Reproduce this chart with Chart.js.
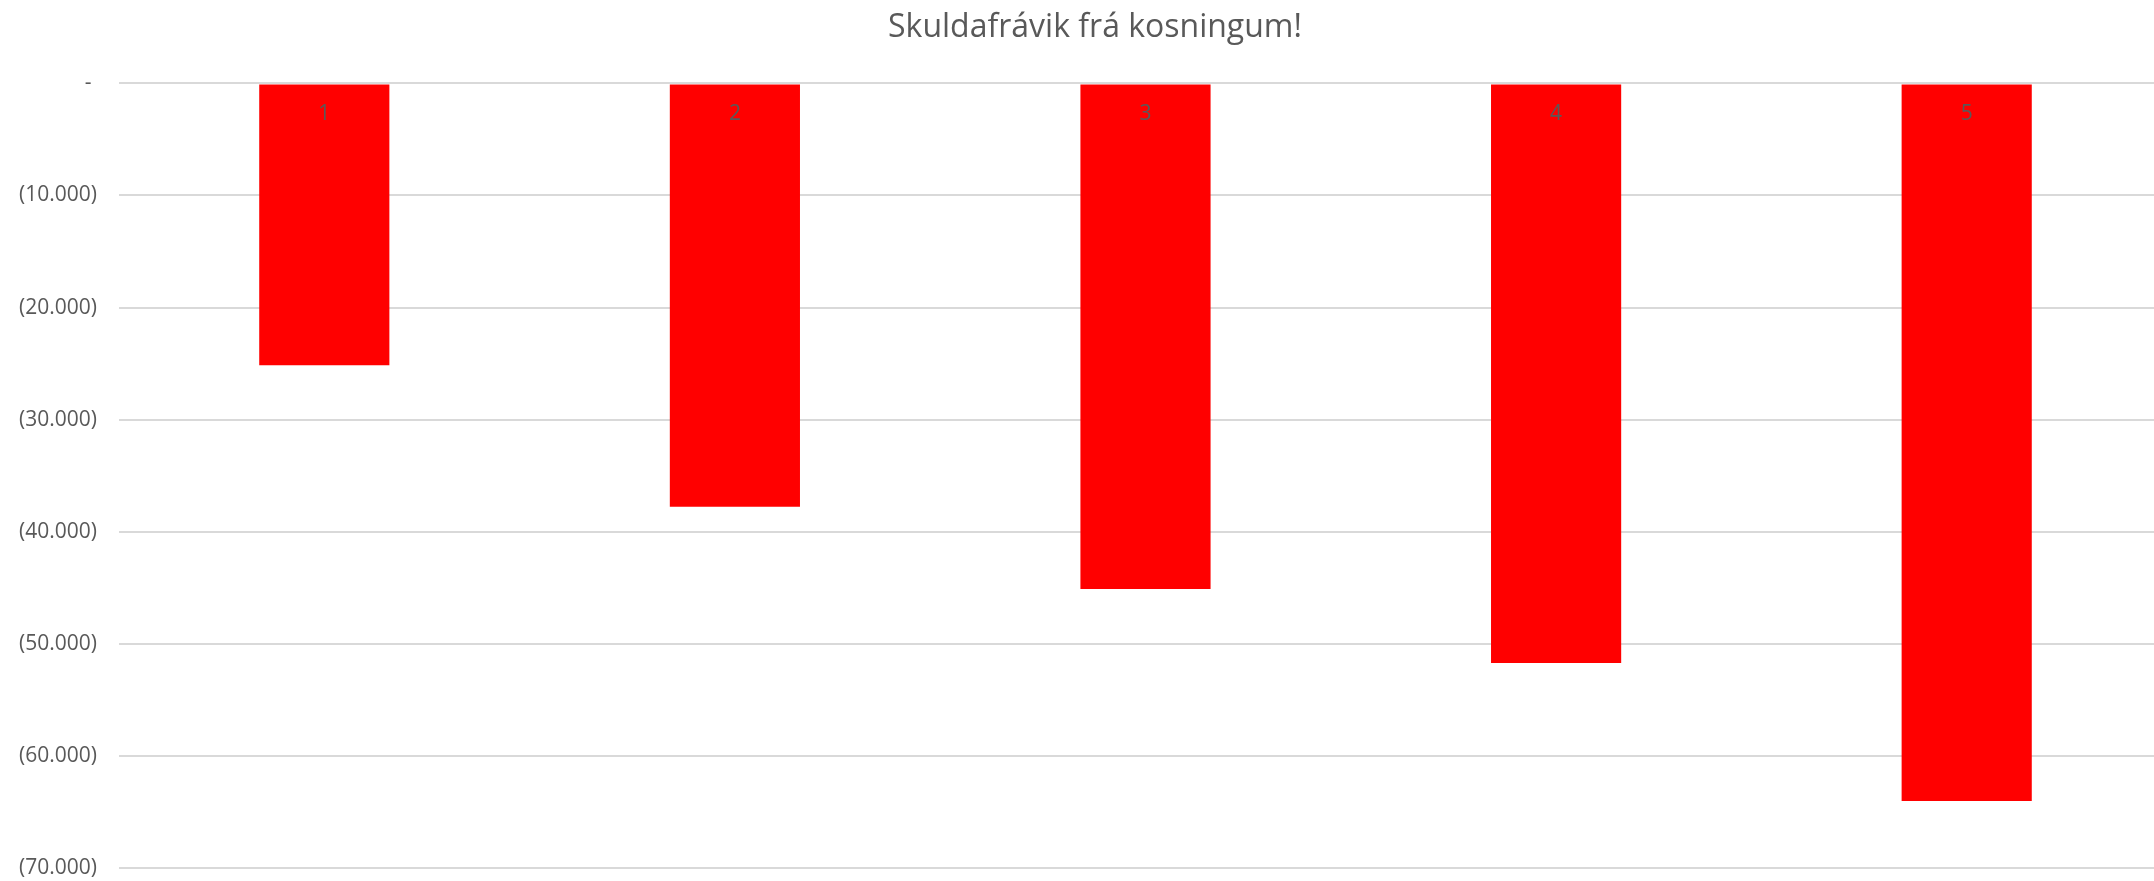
<!DOCTYPE html>
<html>
<head>
<meta charset="utf-8">
<script src="https://cdn.jsdelivr.net/npm/chart.js@4"></script>
<style>
  html, body { margin: 0; padding: 0; background: #ffffff; overflow: hidden; }
  #wrap { position: absolute; left: 0; top: 0; width: 2190px; height: 881px; }
</style>
</head>
<body>
<div id="wrap"><canvas id="c"></canvas></div>
<script>
const categories = ['1', '2', '3', '4', '5'];
const debtDeviation = [-25150, -37770, -45100, -51700, -64020];
const yTickValues = [0, -10000, -20000, -30000, -40000, -50000, -60000, -70000];
const chartTitle = 'Skuldafrávik frá kosningum!';

function accounting(v) {
  if (v === 0) return '- ';
  const s = Math.abs(v).toString().replace(/\B(?=(\d{3})+(?!\d))/g, '.');
  return v < 0 ? '(' + s + ')' : s;
}

const textColor = '#595959';
new Chart(document.getElementById('c'), {
  type: 'bar',
  data: {
    labels: categories,
    datasets: [{
      data: debtDeviation,
      backgroundColor: '#ff0000',
      borderWidth: 0,
      categoryPercentage: 1,
      barPercentage: 0.317
    }]
  },
  options: {
    responsive: true,
    maintainAspectRatio: false,
    animation: false,
    layout: { padding: { left: 18, right: 18, top: 0, bottom: 13 } },
    plugins: {
      legend: { display: false },
      tooltip: { enabled: false },
      title: {
        display: true,
        text: chartTitle,
        color: textColor,
        font: { family: 'Open Sans', size: 32, weight: 'normal' },
        padding: { top: 9, bottom: 36 }
      }
    },
    scales: {
      x: {
        position: { y: 0 },
        afterFit: (scale) => { scale.paddingLeft = 0; scale.paddingRight = 0; scale.paddingTop = 0; scale.paddingBottom = 0; },
        grid: { display: false, drawTicks: false },
        border: { display: false },
        ticks: {
          z: 1,
          color: textColor,
          font: { family: 'Open Sans', size: 21 },
          padding: 18
        }
      },
      y: {
        min: -70000,
        max: 0,
        afterBuildTicks: (scale) => { scale.ticks = yTickValues.map(v => ({ value: v })); },
        afterFit: (scale) => { scale.width = 101; scale.paddingTop = 0; scale.paddingBottom = 0; },
        grid: { color: '#d9d9d9', lineWidth: 2, drawTicks: false },
        border: { display: false },
        ticks: {
          color: textColor,
          font: { family: 'Open Sans', size: 21 },
          padding: 22,
          callback: (v) => accounting(v)
        }
      }
    }
  }
});
</script>
</body>
</html>
